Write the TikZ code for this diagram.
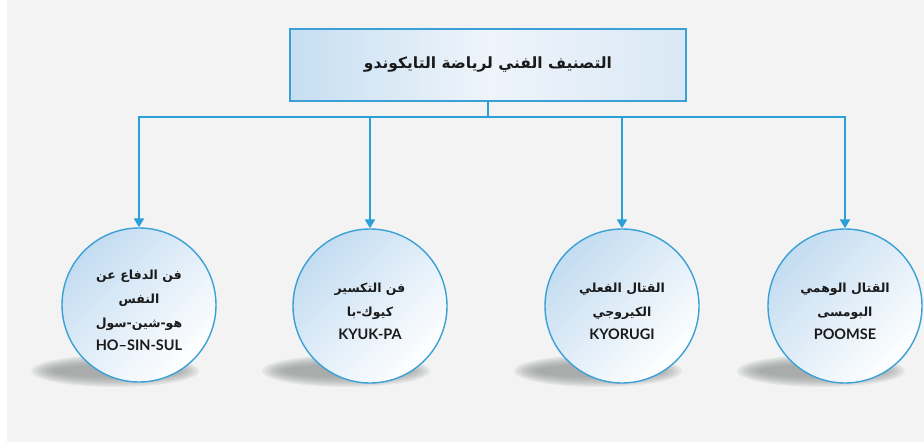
\documentclass[tikz,border=0pt]{standalone}
\usepackage{fontspec}
\usetikzlibrary{arrows.meta}
\TeXXeTstate=1
\newfontfamily\arfont[Script=Arabic]{DejaVu Sans}
\newfontfamily\latfont{Lato}
\newcommand\arl[1]{{\arfont\fontsize{12.5}{25}\selectfont\beginR #1\endR}}
\newcommand\ltl[1]{{\latfont\fontsize{14.5}{25}\selectfont #1}}
\definecolor{bgc}{HTML}{F2F3F2}
\definecolor{linec}{HTML}{2A9FD8}
\definecolor{circc}{HTML}{3AA0D6}
\definecolor{cblue}{HTML}{C3DCF1}
\definecolor{boxl}{HTML}{C6DEF2}
\definecolor{boxm}{HTML}{EEF4FA}
\definecolor{boxr}{HTML}{D9E8F5}
\definecolor{shc}{HTML}{8A8C8E}
\definecolor{txt}{HTML}{1A1A1A}
\tikzset{
  titlebox/.style={draw=circc, line width=1.5pt, minimum width=396pt, minimum height=72pt,
    inner sep=0pt, left color=boxl, right color=boxr, middle color=boxm,
    text=txt, font=\arfont\bfseries\fontsize{15.5}{18}\selectfont},
  circ/.style={circle, draw=circc, line width=1.4pt, minimum size=154pt, inner sep=0pt,
    top color=cblue, bottom color=white, shading angle=45},
  lbl/.style={align=center, text=txt, inner sep=0pt, font=\bfseries\fontsize{13}{25}\selectfont},
  conn/.style={draw=linec, line width=2.4pt, line join=miter},
  arr/.style={conn, -{Triangle[width=10pt,length=9pt]}}
}
\begin{document}
\begin{tikzpicture}[x=1pt,y=-1pt]
\fill[white] (0,0) rectangle (924,442);
\fill[bgc] (7,0) rectangle (924,442);
\useasboundingbox (0,0) rectangle (924,442);
% shadows
\foreach \cx in {139,370,622,845}{
  \foreach \k in {0,...,7}{
    \fill[shc, opacity=0.13] (\cx-24,371) ellipse [x radius={84-3.2*\k}, y radius={16-1.4*\k}];
  }
}
\node[titlebox] (top) at (488,65) {\beginR التصنيف الفني لرياضة التايكوندو\endR};
\node[circ] (c1) at (139,305) {};
\node[circ] (c2) at (370,306) {};
\node[circ] (c3) at (622,306) {};
\node[circ] (c4) at (845,306) {};
\coordinate (j) at (488,117);
\foreach \c in {c1,c2,c3,c4}{
  \draw[arr] (top.south) -- (j) -| (\c.north);
}
\node[lbl] (t1) at (139,310) {\arl{فن الدفاع عن}\\[-1pt] \arl{النفس}\\[-1pt] \arl{هو-شين-سول}\\[-2pt] \ltl{HO–SIN-SUL}};
\node[lbl] (t2) at (370,311) {\arl{فن التكسير}\\[-1pt] \arl{كيوك-با}\\[-2pt] \ltl{KYUK-PA}};
\node[lbl] (t3) at (622,311) {\arl{القتال الفعلي}\\[-1pt] \arl{الكيروجي}\\[-2pt] \ltl{KYORUGI}};
\node[lbl] (t4) at (845,311) {\arl{القتال الوهمي}\\[-1pt] \arl{البومسى}\\[-2pt] \ltl{POOMSE}};
\end{tikzpicture}
\end{document}
